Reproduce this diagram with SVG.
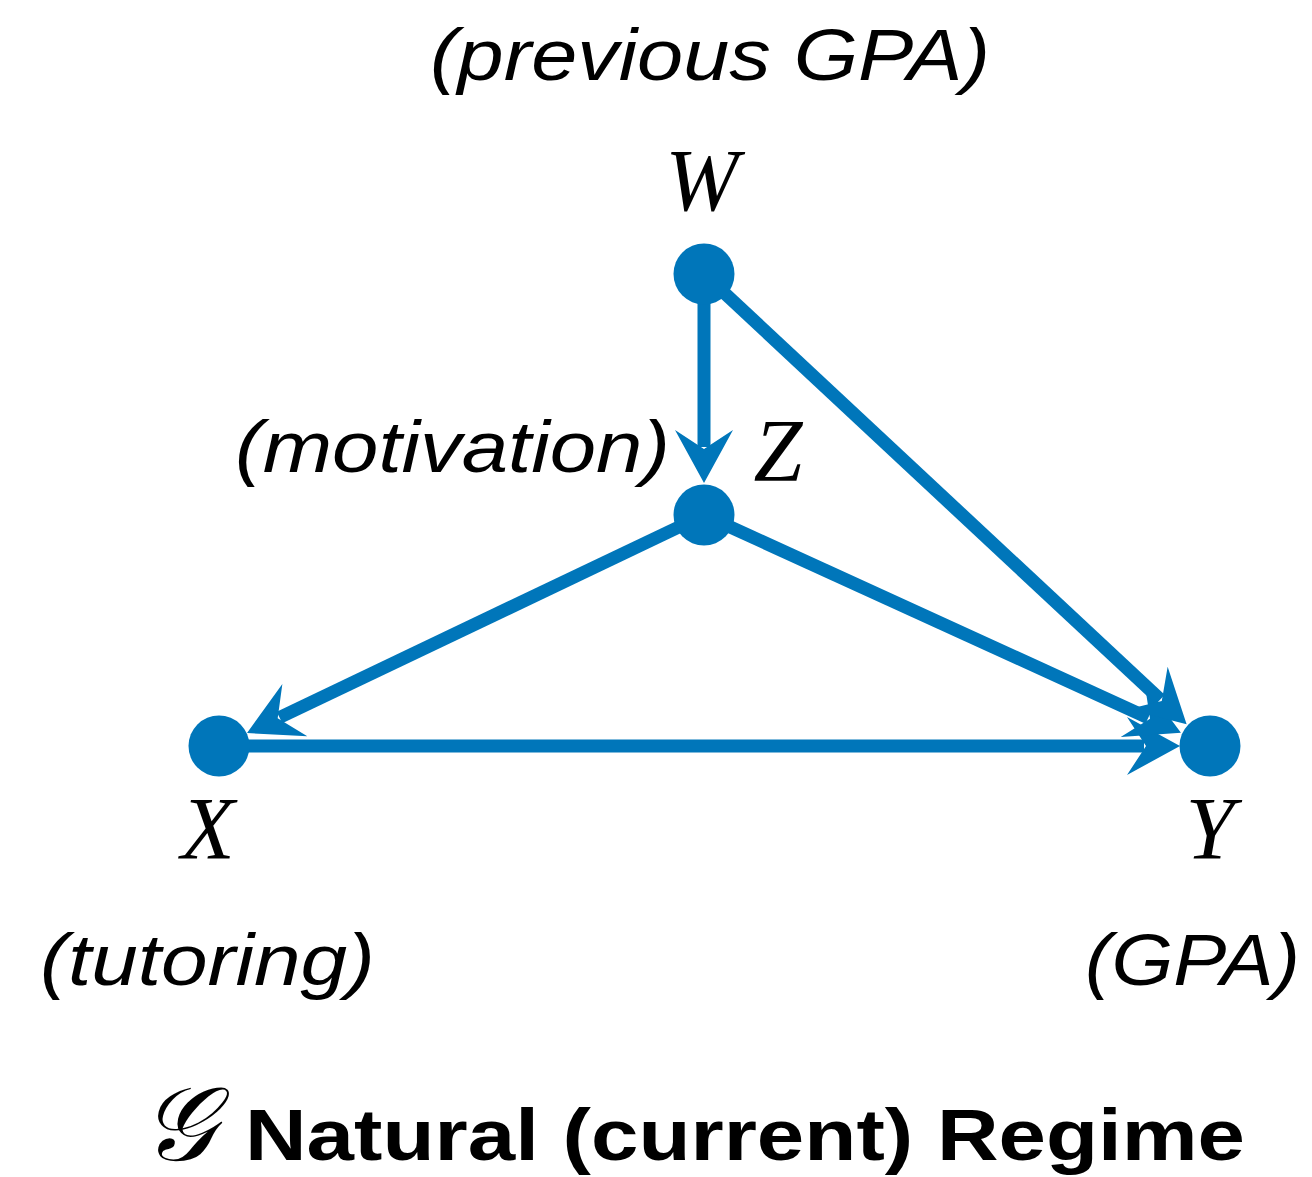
<svg xmlns="http://www.w3.org/2000/svg" width="1312" height="1177" viewBox="0 0 1312 1177">
<style>
.edge{stroke:#0076BA;stroke-width:13;fill:none;marker-end:url(#ah)}
.node{fill:#0076BA}
.var{font-family:"Liberation Serif",serif;font-style:italic;font-size:88px;fill:#000;text-anchor:middle}
.lab{font-family:"Liberation Sans",Arial,sans-serif;font-style:italic;font-size:72px;fill:#000}
.title{font-family:"Liberation Sans",Arial,sans-serif;font-weight:bold;font-size:72px;fill:#000}
</style>
<defs>
<marker id="ah" markerUnits="userSpaceOnUse" markerWidth="120" markerHeight="120" refX="0" refY="0" orient="auto" overflow="visible" viewBox="-60 -60 120 120">
<path d="M36,0 L-17,-29 L2,0 L-17,29 Z" fill="#0076BA"/>
</marker>
</defs>
<rect width="1312" height="1177" fill="#fff"/>
<g id="connectors">
<line class="edge" x1="704" y1="274" x2="704" y2="447"/>
<line class="edge" x1="704" y1="515" x2="279.5" y2="717.5"/>
<line class="edge" x1="219" y1="746" x2="1144" y2="746"/>
<line class="edge" x1="704" y1="515" x2="1148.2" y2="717.8"/>
<line class="edge" x1="704" y1="274" x2="1160.3" y2="699.6"/>
</g>
<g id="node-W">
<circle class="node" cx="704" cy="274" r="30.5"/>
<text class="var" x="702" y="210">W</text>
<text class="lab" x="430" y="80" textLength="560" lengthAdjust="spacingAndGlyphs">(previous GPA)</text>
</g>
<g id="node-Z">
<circle class="node" cx="704" cy="515" r="30.5"/>
<text class="var" x="778" y="480">Z</text>
<text class="lab" x="235" y="472" textLength="435" lengthAdjust="spacingAndGlyphs">(motivation)</text>
</g>
<g id="node-X">
<circle class="node" cx="219" cy="746" r="30.5"/>
<text class="var" x="208" y="858">X</text>
<text class="lab" x="40" y="985" textLength="335" lengthAdjust="spacingAndGlyphs">(tutoring)</text>
</g>
<g id="node-Y">
<circle class="node" cx="1210" cy="746" r="30.5"/>
<text class="var" x="1210" y="858">Y</text>
<text class="lab" x="1085" y="985" textLength="215" lengthAdjust="spacingAndGlyphs">(GPA)</text>
</g>
<g id="title">
<text x="178" y="1160" style="font-family:'DejaVu Serif','Liberation Serif',serif;font-style:italic;font-size:104px;text-anchor:middle">𝒢</text>
<text class="title" x="245" y="1160" textLength="1000" lengthAdjust="spacingAndGlyphs">Natural (current) Regime</text>
</g>
</svg>
